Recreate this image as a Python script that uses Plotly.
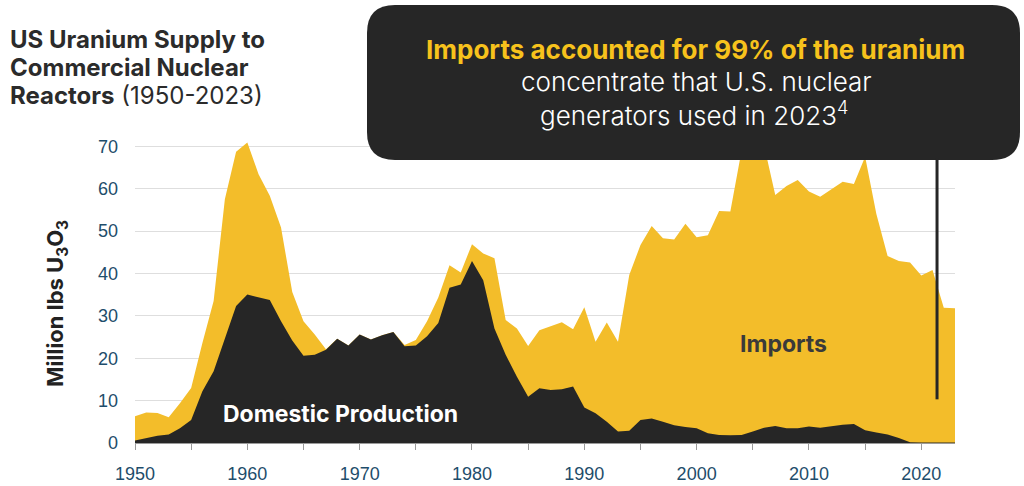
import plotly.graph_objects as go

# Data (million lbs U3O8 equivalent)
years = list(range(1950, 2024))

domestic_production = [
    0.6, 1.2, 1.7, 2.0, 3.5, 5.4, 12.2, 16.9, 24.4, 32.3,
    35.0, 34.3, 33.7, 28.7, 24.2, 20.6, 20.8, 22.0, 24.6, 23.0,
    25.6, 24.4, 25.4, 26.2, 22.8, 23.0, 25.2, 28.3, 36.6, 37.4,
    42.9, 38.4, 27.0, 20.8, 15.6, 10.9, 12.9, 12.5, 12.7, 13.3,
    8.4, 7.0, 5.0, 2.7, 2.9, 5.4, 5.8, 5.0, 4.2, 3.8,
    3.5, 2.3, 1.9, 1.8, 1.9, 2.7, 3.6, 4.0, 3.5, 3.5,
    3.9, 3.6, 4.0, 4.3, 4.5, 3.0, 2.5, 2.0, 1.2, 0.2,
    0.1, 0.1, 0.1, 0.1,
]

# domestic production + imports (top of the yellow area)
total_supply = [
    6.3, 7.2, 7.1, 6.1, 9.4, 13.0, 23.6, 33.5, 57.5, 68.7,
    70.9, 63.4, 58.3, 50.8, 35.6, 28.7, 25.6, 22.1, 24.6, 23.0,
    25.6, 24.4, 25.4, 26.2, 23.1, 24.3, 28.7, 34.3, 41.9, 40.2,
    46.9, 44.7, 43.6, 29.0, 27.0, 22.9, 26.6, 27.6, 28.5, 26.8,
    32.0, 23.9, 28.4, 23.9, 39.6, 46.7, 51.2, 48.3, 48.0, 51.7,
    48.5, 49.0, 54.7, 54.6, 69.0, 72.0, 70.2, 58.5, 60.6, 62.0,
    59.3, 58.1, 59.8, 61.6, 61.1, 67.5, 54.0, 44.1, 42.9, 42.6,
    39.5, 40.8, 31.9, 31.8,
]

y_ticks = [0, 10, 20, 30, 40, 50, 60, 70]
x_ticks = [1950, 1960, 1970, 1980, 1990, 2000, 2010, 2020]

YELLOW = "#F3BD2A"
DARK = "#262626"
TICK_BLUE = "#1E4D6B"

W, H = 1024, 486
# plot area, in pixels
L, R, T, B = 135, 955, 125, 443


def px_x(px):
    return (px - L) / (R - L)


def px_y(py):
    return (B - py) / (B - T)


fig = go.Figure()
fig.add_trace(go.Scatter(
    x=years, y=total_supply, mode="lines", line=dict(width=0, color=YELLOW),
    fill="tozeroy", fillcolor=YELLOW, name="Imports", hoverinfo="skip",
))
fig.add_trace(go.Scatter(
    x=years, y=domestic_production, mode="lines", line=dict(width=0, color=DARK),
    fill="tozeroy", fillcolor=DARK, name="Domestic Production", hoverinfo="skip",
))

# Rounded callout box
x0, x1, y0, y1, rad = 367, 1020, 5, 160, 28
pts = [
    ("M", x0 + rad, y0), ("L", x1 - rad, y0), ("Q", x1, y0, x1, y0 + rad),
    ("L", x1, y1 - rad), ("Q", x1, y1, x1 - rad, y1), ("L", x0 + rad, y1),
    ("Q", x0, y1, x0, y1 - rad), ("L", x0, y0 + rad), ("Q", x0, y0, x0 + rad, y0),
]
path = ""
for p in pts:
    cmd, coords = p[0], p[1:]
    pairs = []
    for i in range(0, len(coords), 2):
        pairs.append(f"{px_x(coords[i]):.5f},{px_y(coords[i + 1]):.5f}")
    path += cmd + " ".join(pairs) + " "
path += "Z"

fig.add_shape(type="path", path=path, xref="paper", yref="paper",
              fillcolor=DARK, line=dict(width=0), layer="above")
fig.add_shape(type="line", x0=2021.4, x1=2021.4, y0=10.3, y1=67,
              xref="x", yref="y", line=dict(color=DARK, width=3), layer="above")

FONT = "Inter, Lato, sans-serif"
annotations = [
    dict(text="<b>US Uranium Supply to</b>", x=px_x(8), y=px_y(39), xanchor="left",
         font=dict(family=FONT, size=24, color="#2B2B2B")),
    dict(text="<b>Commercial Nuclear</b>", x=px_x(8), y=px_y(67), xanchor="left",
         font=dict(family=FONT, size=24, color="#2B2B2B")),
    dict(text="<b>Reactors</b> (1950-2023)", x=px_x(8), y=px_y(96), xanchor="left",
         font=dict(family=FONT, size=24, color="#2B2B2B")),
    dict(text="<b>Imports accounted for 99% of the uranium</b>",
         x=px_x(695), y=px_y(50), font=dict(family=FONT, size=26, color="#F7C21C")),
    dict(text="concentrate that U.S. nuclear",
         x=px_x(696), y=px_y(81), font=dict(family=FONT, size=26, color="white", weight=300)),
    dict(text="generators used in 2023<sup>4</sup>",
         x=px_x(694), y=px_y(113), font=dict(family=FONT, size=26, color="white", weight=300)),
    dict(text="<b>Domestic Production</b>",
         x=px_x(340), y=px_y(414), font=dict(family=FONT, size=23, color="white")),
    dict(text="<b>Imports</b>",
         x=px_x(783), y=px_y(344), font=dict(family=FONT, size=23, color="#3A3A3A")),
    dict(text="<b>Million lbs U<sub>3</sub>O<sub>3</sub></b>", textangle=-90,
         x=px_x(57), y=px_y(304), font=dict(family=FONT, size=22, color="#222222")),
]
for a in annotations:
    a.setdefault("xanchor", "center")
    a.setdefault("yanchor", "middle")
    a.setdefault("xref", "paper")
    a.setdefault("yref", "paper")
    a.setdefault("showarrow", False)
    fig.add_annotation(**a)

fig.update_layout(
    width=W, height=H,
    margin=dict(l=L, r=W - R, t=T, b=H - B),
    paper_bgcolor="white", plot_bgcolor="white",
    showlegend=False,
    font=dict(family="Liberation Sans, Arial, sans-serif"),
)
fig.update_xaxes(
    range=[1950, 2023], tickvals=x_ticks, showgrid=False, zeroline=False,
    showline=True, linecolor="#9A9A9A", linewidth=1, automargin=False,
    ticks="outside", ticklen=6, tickcolor="#9A9A9A", ticklabelstandoff=8,
    minor=dict(dtick=5, tick0=1950, ticks="outside", ticklen=6, tickcolor="#9A9A9A"),
    tickfont=dict(size=18, color=TICK_BLUE),
)
fig.update_yaxes(
    range=[0, 75], tickvals=y_ticks, showgrid=True, gridcolor="#DEDEDE", gridwidth=1,
    zeroline=False, showline=False, ticks="", ticklabelstandoff=16, automargin=False,
    tickfont=dict(size=18, color=TICK_BLUE),
)

# drop the browser's default 8px body margin so the figure sits at the window's corner
fig.write_html("out.html", config={"displayModeBar": False},
               post_script="document.body.style.margin = '0';")
